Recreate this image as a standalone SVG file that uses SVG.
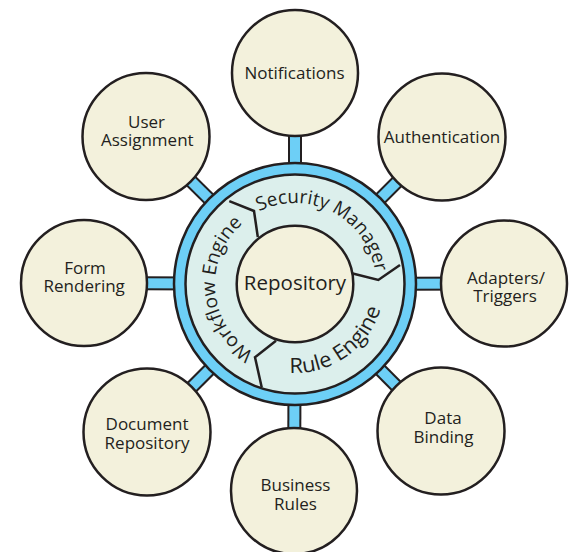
<svg xmlns="http://www.w3.org/2000/svg" width="571" height="552" viewBox="0 0 571 552">
<style>
.node circle{fill:#f3f1dc;stroke:#231f20;stroke-width:2.5}
.node text{font-family:"Open Sans","Noto Sans",sans-serif;font-size:17px;fill:#231f20;text-anchor:middle}
.spk{stroke:#231f20;stroke-width:14}
.spk2{stroke:#6dcff6;stroke-width:10}
.div{fill:none;stroke:#231f20;stroke-width:2.5;stroke-linejoin:miter}
.arc{font-family:"Open Sans","Noto Sans",sans-serif;font-size:19px;fill:#231f20}
</style>
<defs>
<path id="pSec" d="M226.69,240.48 A81,81 0 0 1 369.83,315.0"/>
<path id="pWf" d="M295,364 A80,80 0 0 1 281.11,205.22"/>
<path id="pRule" d="M227.02,341.45 A89,89 0 0 0 371.92,239.23"/>
</defs>
<rect width="571" height="552" fill="#ffffff"/>
<g id="connectors">
<g class="spk">
<line x1="295" y1="284" x2="295" y2="73"/>
<line x1="295" y1="284" x2="442" y2="137"/>
<line x1="295" y1="284" x2="504" y2="283.5"/>
<line x1="295" y1="284" x2="441" y2="431"/>
<line x1="295" y1="284" x2="294" y2="491"/>
<line x1="295" y1="284" x2="147" y2="432"/>
<line x1="295" y1="284" x2="84" y2="283"/>
<line x1="295" y1="284" x2="146" y2="136.5"/>
</g>
<g class="spk2">
<line x1="295" y1="284" x2="295" y2="73"/>
<line x1="295" y1="284" x2="442" y2="137"/>
<line x1="295" y1="284" x2="504" y2="283.5"/>
<line x1="295" y1="284" x2="441" y2="431"/>
<line x1="295" y1="284" x2="294" y2="491"/>
<line x1="295" y1="284" x2="147" y2="432"/>
<line x1="295" y1="284" x2="84" y2="283"/>
<line x1="295" y1="284" x2="146" y2="136.5"/>
</g>
</g>
<g id="hub">
<circle cx="295" cy="284" r="121" fill="#6dcff6" stroke="#231f20" stroke-width="2.5"/>
<circle cx="295" cy="284" r="109.5" fill="#dcefec" stroke="#231f20" stroke-width="2.5"/>
<polyline class="div" points="229.3,201.2 254,211 257.8,237"/>
<polyline class="div" points="351.7,273.3 378.3,280 400,265"/>
<polyline class="div" points="276,340.7 255,357.3 261.7,387.3"/>
<text class="arc"><textPath href="#pSec" startOffset="50%" text-anchor="middle" textLength="152" lengthAdjust="spacingAndGlyphs">Security Manager</textPath></text>
<text class="arc"><textPath href="#pWf" startOffset="50%" text-anchor="middle" textLength="151" lengthAdjust="spacingAndGlyphs">Workflow Engine</textPath></text>
<text class="arc" style="font-size:21px"><textPath href="#pRule" startOffset="50%" text-anchor="middle" textLength="120" lengthAdjust="spacingAndGlyphs">Rule Engine</textPath></text>
</g>
<g id="repository" class="node">
<circle cx="295" cy="284" r="58.3"/>
<text x="295" y="290" style="font-size:20.5px">Repository</text>
</g>
<g id="notifications" class="node">
<circle cx="295" cy="73" r="63"/>
<text x="294.5" y="79">Notifications</text>
</g>
<g id="authentication" class="node">
<circle cx="442" cy="137" r="63.5"/>
<text x="442" y="143">Authentication</text>
</g>
<g id="adapters" class="node">
<circle cx="504" cy="283.5" r="63"/>
<text x="506" y="284">Adapters/</text>
<text x="505" y="302">Triggers</text>
</g>
<g id="data-binding" class="node">
<circle cx="441" cy="431" r="63.5"/>
<text x="443" y="424">Data</text>
<text x="443.5" y="443">Binding</text>
</g>
<g id="business-rules" class="node">
<circle cx="294" cy="491" r="63"/>
<text x="295.5" y="491">Business</text>
<text x="295.5" y="510">Rules</text>
</g>
<g id="document-repository" class="node">
<circle cx="147" cy="432" r="63.5"/>
<text x="147" y="430">Document</text>
<text x="147" y="449">Repository</text>
</g>
<g id="form-rendering" class="node">
<circle cx="84" cy="283" r="63"/>
<text x="85" y="274">Form</text>
<text x="84.2" y="292">Rendering</text>
</g>
<g id="user-assignment" class="node">
<circle cx="146" cy="136.5" r="63.5"/>
<text x="146.5" y="128.3">User</text>
<text x="147.3" y="146">Assignment</text>
</g>
</svg>
